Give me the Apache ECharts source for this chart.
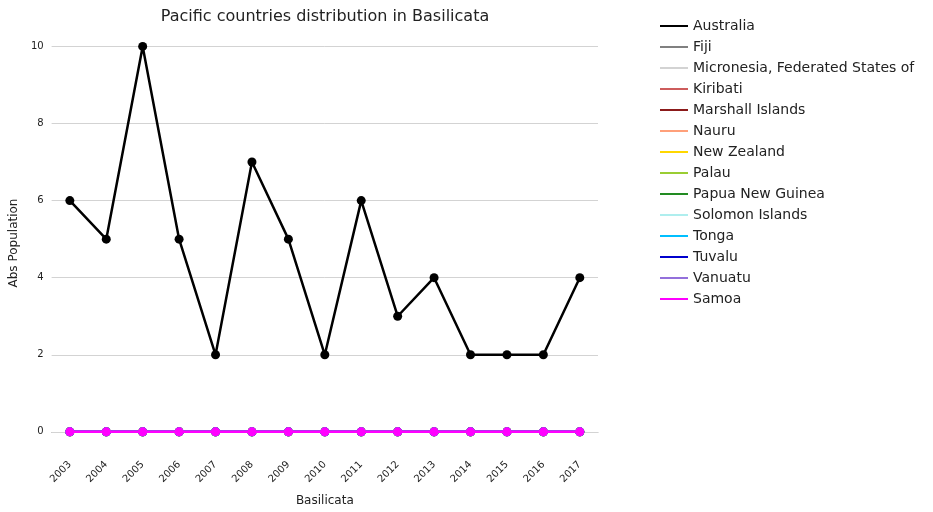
<!DOCTYPE html>
<html><head><meta charset="utf-8">
<script src="https://cdn.jsdelivr.net/npm/echarts@6/dist/echarts.min.js"></script>
<style>html,body{margin:0;padding:0;background:#fff}#c{width:933px;height:512px}</style>
</head><body><div id="c"></div>
<script>
const years = ['2003','2004','2005','2006','2007','2008','2009','2010','2011','2012','2013','2014','2015','2016','2017'];
const countries = ['Australia','Fiji','Micronesia, Federated States of','Kiribati','Marshall Islands','Nauru','New Zealand','Palau','Papua New Guinea','Solomon Islands','Tonga','Tuvalu','Vanuatu','Samoa'];
const colors = ['#000000','#808080','#d3d3d3','#cd5c5c','#8b1a1a','#ffa07a','#ffd700','#9acd32','#228b22','#afeeee','#00bfff','#0000cd','#9370db','#ff00ff'];
const australia = [6,5,10,5,2,7,5,2,6,3,4,2,2,2,4];
const zeros = [0,0,0,0,0,0,0,0,0,0,0,0,0,0,0];
const yTicks = [0,2,4,6,8,10];
const chart = echarts.init(document.getElementById('c'));
const series = countries.map((n,i)=>({
  name:n, type:'line', data: i===0?australia:zeros, color:colors[i],
  symbol:'circle', symbolSize:9, lineStyle:{width:2.5}, z: 3+i,
  markLine: i===0 ? {silent:true, symbol:'none', label:{show:false}, z:1,
    lineStyle:{color:'#d3d3d3', type:'solid', width:1},
    data: yTicks.map(v=>({yAxis:v}))} : undefined
}));
chart.setOption({
  animation:false,
  title:{text:'Pacific countries distribution in Basilicata', left:320, top:4, textAlign:'center',
    textStyle:{fontSize:16, fontWeight:'normal', color:'#222', fontFamily:'DejaVu Sans'}},
  legend:{orient:'vertical', left:655, top:14, itemGap:7, itemWidth:28, itemHeight:14,
    icon:'path://M0,6 L28,6 L28,8 L0,8 Z',
    textStyle:{fontSize:14, color:'#222', fontFamily:'DejaVu Sans'}, data:countries},
  grid:{left:40, right:335, top:31, bottom:53},
  xAxis:{type:'category', data:years, boundaryGap:true, name:'Basilicata', nameLocation:'middle', nameGap:40,
    nameTextStyle:{fontSize:12, color:'#222', fontFamily:'DejaVu Sans'},
    axisLine:{lineStyle:{color:'#bbb'}}, axisTick:{show:false},
    axisLabel:{rotate:45, color:'#222', fontSize:10, fontFamily:'DejaVu Sans', margin:8}},
  yAxis:{type:'value', min:-0.6, max:10.4, name:'Abs Population', nameLocation:'middle', nameGap:28,
    nameTextStyle:{fontSize:12, color:'#222', fontFamily:'DejaVu Sans'},
    splitLine:{show:false}, axisLine:{show:false}, axisTick:{show:false},
    axisLabel:{customValues:yTicks, color:'#222', fontSize:10, fontFamily:'DejaVu Sans'}},
  series
});
</script></body></html>
